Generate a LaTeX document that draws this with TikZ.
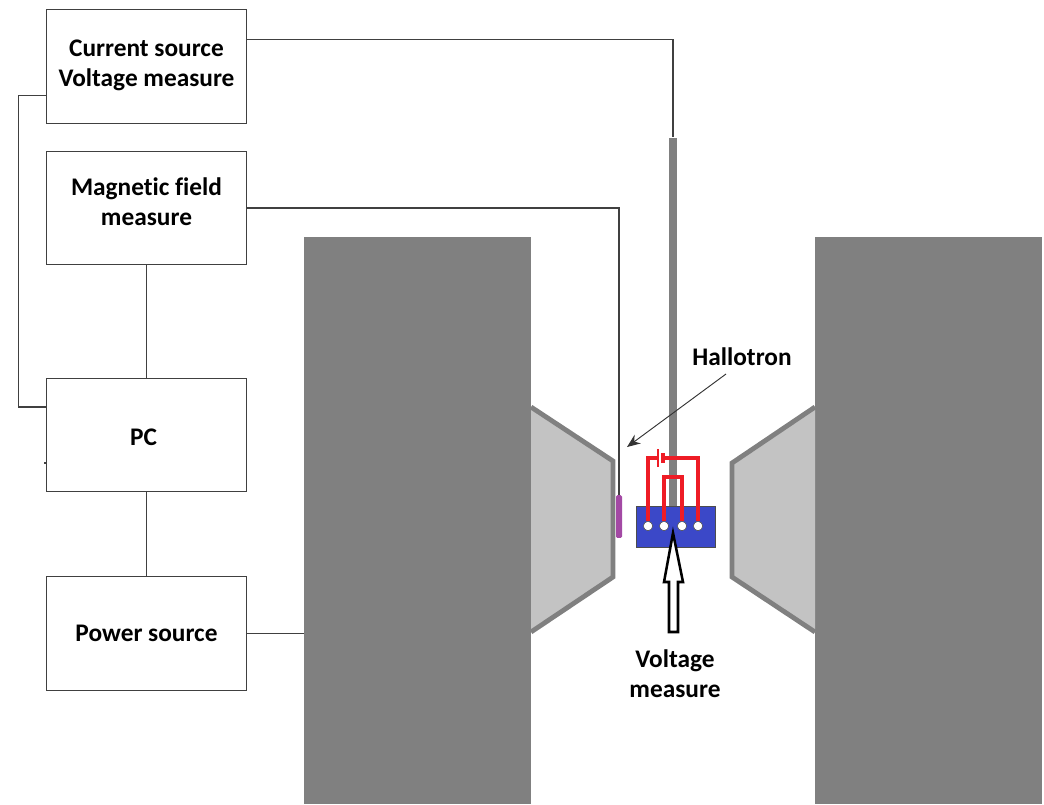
\documentclass[tikz,border=0pt]{standalone}
\usepackage{fontspec}
\setmainfont[Ligatures=NoCommon]{Carlito}
\usetikzlibrary{arrows.meta, positioning}

\definecolor{blockgray}{HTML}{808080}
\definecolor{polegray}{HTML}{C3C3C3}
\definecolor{hallblue}{HTML}{3B48C8}
\definecolor{hallred}{HTML}{EE1C25}
\definecolor{probe}{HTML}{A349A4}

\newcommand{\lifttext}[1]{\rule[-#1]{0pt}{#1}}

\begin{document}
\begin{tikzpicture}[
    x=0.75pt, y=-0.75pt,
    every node/.style={font=\fontsize{19}{22.5}\selectfont\bfseries, align=center, inner sep=0pt},
    box/.style={rectangle, draw=black!75, line width=0.9pt, minimum width=149.5pt, minimum height=85pt},
    block/.style={rectangle, fill=blockgray, minimum width=170.25pt, minimum height=425.25pt},
    pole/.style={draw=blockgray, fill=polegray, line width=3.6pt, miter limit=4},
    wire/.style={black!75, line width=0.8pt},
    redwire/.style={hallred, line width=2.6pt},
    pin/.style={circle, fill=white, draw=black!70, line width=0.4pt, minimum size=7pt}
]

\useasboundingbox (0,0) rectangle (1044,804);

% --- magnet ---
\node (leftblock) [block] at (417.5,520.5) {};
\node (rightblock) [block] at (928.5,520.5) {};
\draw [pole] (531,407) -- (613,461) -- (613,577) -- (531,632);
\draw [pole] (815,407) -- (732,463) -- (732,577) -- (815,632);

% --- boxes ---
\node (source) [box] at (146.5,66.5) {Current source \\ Voltage measure\lifttext{4.5pt}};
\node (field) [box] at (146.5,208) {Magnetic field \\ measure\lifttext{9pt}};
\node (pc) [box] at (146.5,435) {\rule{0pt}{15.2pt}PC\hspace{4.5pt}};
\node (power) [box] at (146.5,633.5) {Power source};

% --- sample holder ---
\node (rod) [rectangle, fill=blockgray, minimum width=6pt, minimum height=276pt] at (673,321.5) {};
\node (sample) [rectangle, fill=hallblue, draw=black!70, line width=0.5pt, minimum width=59pt, minimum height=30.5pt] at (675.5,526.5) {};
\node (sensor) [rectangle, rounded corners=1pt, fill=probe, minimum width=4.5pt, minimum height=32pt] at (619,516.5) {};

\node (pina) [pin] at (648,526) {};
\node (pinb) [pin] at (664,526) {};
\node (pinc) [pin] at (682,526) {};
\node (pind) [pin] at (698,526) {};

\coordinate (batta) at (658,458);
\coordinate (battb) at (663,458);

\draw [redwire] (pina.north) |- (batta);
\draw [redwire] (battb) -| (pind.north);
\draw [redwire] (pinb.north) |- (673,477) -| (pinc.north);
\draw [hallred, line width=0.8pt] (658,449) -- (658,467);
\draw [hallred, line width=3.6pt] (663,453) -- (663,463);

% --- labels ---
\node (halllabel) at (742,357) {Hallotron};
\node (voltlabel) at (675,673.5) {Voltage \\ measure};

% --- connections ---
\draw [wire] ([yshift=20.6pt]source.east) -| (rod.north);
\draw [wire] (field.east) -| (sensor.north);
\draw [wire] ([yshift=-21.4pt]source.west) -- ++(-28,0) |- ([yshift=21pt]pc.west);
\draw [wire] (field) -- (pc);
\draw [wire] (pc) -- (power);
\draw [wire] (power) -- (leftblock.west |- power);
\draw [wire] ([yshift=-21pt]pc.west) -- ++(-2,0);
\draw [-{Stealth[length=10pt,width=8pt]}, black!80, line width=0.7pt] (726,374) -- (627,447);

% --- hollow arrow ---
\draw [fill=white, draw=black, line width=1.9pt, miter limit=10] (673,533) -- (683,582) -- (678,582) -- (678,632) -- (669,632) -- (669,582) -- (664,582) -- cycle;

\end{tikzpicture}
\end{document}
